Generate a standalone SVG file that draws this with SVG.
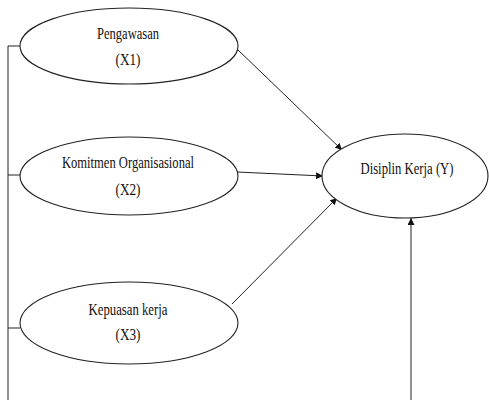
<svg xmlns="http://www.w3.org/2000/svg" width="489" height="400" viewBox="0 0 489 400">
<style>
.node ellipse{fill:#fff;stroke:#222;stroke-width:1.1}
text{font-family:"Liberation Serif","Times New Roman",serif;font-size:16.5px;fill:#111;text-anchor:middle}
.c line{stroke:#222;stroke-width:1;fill:none}
</style>
<defs>
<marker id="ah" viewBox="0 0 10 10" refX="10" refY="5" markerWidth="7" markerHeight="7" orient="auto" markerUnits="userSpaceOnUse"><path d="M0,0 L10,5 L0,10 z" fill="#111"/></marker>
</defs>
<rect width="489" height="400" fill="#fff"/>
<g class="c">
<line x1="8" y1="46" x2="8" y2="400"/>
<line x1="8" y1="46" x2="20" y2="46"/>
<line x1="8" y1="175" x2="20" y2="175"/>
<line x1="8" y1="328" x2="20" y2="328"/>
<line x1="236" y1="48" x2="342" y2="150" marker-end="url(#ah)"/>
<line x1="237" y1="172" x2="323" y2="176" marker-end="url(#ah)"/>
<line x1="232" y1="304" x2="337" y2="198" marker-end="url(#ah)"/>
<line x1="411" y1="400" x2="411" y2="218" marker-end="url(#ah)"/>
</g>
<g id="x1" class="node">
<ellipse cx="129" cy="46" rx="109" ry="38"/>
<text x="128" y="39" textLength="62" lengthAdjust="spacingAndGlyphs">Pengawasan</text>
<text x="128" y="65" textLength="25" lengthAdjust="spacingAndGlyphs">(X1)</text>
</g>
<g id="x2" class="node">
<ellipse cx="129" cy="176" rx="109" ry="39"/>
<text x="128" y="168" textLength="132" lengthAdjust="spacingAndGlyphs">Komitmen Organisasional</text>
<text x="128" y="195" textLength="25" lengthAdjust="spacingAndGlyphs">(X2)</text>
</g>
<g id="x3" class="node">
<ellipse cx="129" cy="323" rx="109" ry="41"/>
<text x="128" y="315" textLength="79" lengthAdjust="spacingAndGlyphs">Kepuasan kerja</text>
<text x="128" y="340" textLength="25" lengthAdjust="spacingAndGlyphs">(X3)</text>
</g>
<g id="y" class="node">
<ellipse cx="405" cy="176" rx="83" ry="42"/>
<text x="407" y="174" textLength="93" lengthAdjust="spacingAndGlyphs">Disiplin Kerja (Y)</text>
</g>
</svg>
